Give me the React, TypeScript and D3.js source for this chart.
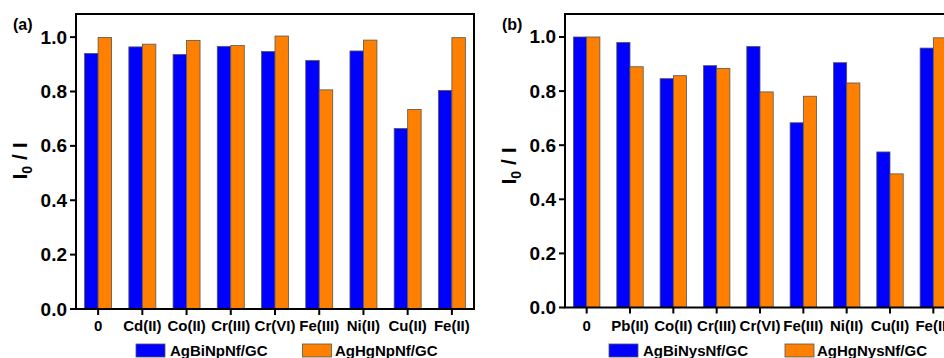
import React from "react";
import * as d3 from "d3";

// ion categories on the x axis
const ionsA = ["0", "Cd(II)", "Co(II)", "Cr(III)", "Cr(VI)", "Fe(III)", "Ni(II)", "Cu(II)", "Fe(II)"];
const ionsB = ["0", "Pb(II)", "Co(II)", "Cr(III)", "Cr(VI)", "Fe(III)", "Ni(II)", "Cu(II)", "Fe(II)"];

// I0 / I values
const biNpA = [0.94, 0.964, 0.936, 0.966, 0.947, 0.914, 0.949, 0.664, 0.804];
const hgNpA = [0.999, 0.974, 0.988, 0.969, 1.004, 0.806, 0.989, 0.734, 0.998];
const biNysB = [1.0, 0.98, 0.846, 0.894, 0.965, 0.683, 0.905, 0.575, 0.959];
const hgNysB = [1.0, 0.89, 0.857, 0.884, 0.797, 0.781, 0.83, 0.494, 0.997];

const seriesA = ["AgBiNpNf/GC", "AgHgNpNf/GC"];
const seriesB = ["AgBiNysNf/GC", "AgHgNysNf/GC"];
const yTicks = [0, 0.2, 0.4, 0.6, 0.8, 1.0];

const colors = ["#0000ff", "#ff8000"];
const font = "'Liberation Sans', Arial, Helvetica, sans-serif";

type PanelProps = {
  tag: string;
  ions: string[];
  values: number[][];
  names: string[];
  left: number;
  right: number;
  top: number;
  bottom: number;
  titleY: number;
  legendX: number[];
  legendTextX: number[];
};

function Panel(props: PanelProps) {
  const { tag, ions, values, names, left, right, top, bottom, titleY, legendX, legendTextX } = props;

  const x = d3.scaleBand<string>().domain(ions).range([left, right]).paddingInner(0.39).paddingOuter(0.195);
  const xs = d3.scaleBand<number>().domain([0, 1]).range([0, x.bandwidth()]);
  const y = d3.scaleLinear().domain([0, 1.085]).range([bottom, top]);

  return (
    <g fontFamily={font} fontWeight="bold">
      {values.map((series, si) =>
        series.map((v, i) => (
          <rect
            key={`${si}-${i}`}
            x={(x(ions[i]) as number) + (xs(si) as number)}
            y={y(v)}
            width={xs.bandwidth()}
            height={bottom - y(v)}
            fill={colors[si]}
            stroke="#555"
            strokeWidth={0.8}
          />
        ))
      )}

      <rect x={left} y={top} width={right - left} height={bottom - top} fill="none" stroke="#000" strokeWidth={2} />

      {yTicks.map((t) => (
        <g key={t}>
          <line x1={left - 6} x2={left} y1={y(t)} y2={y(t)} stroke="#000" strokeWidth={2} />
          <text x={left - 9} y={y(t)} textAnchor="end" dominantBaseline="central" fontSize={19}>
            {d3.format(".1f")(t)}
          </text>
        </g>
      ))}

      {ions.map((ion) => {
        const cx = (x(ion) as number) + x.bandwidth() / 2;
        return (
          <g key={ion}>
            <line x1={cx} x2={cx} y1={bottom} y2={bottom + 6} stroke="#000" strokeWidth={2} />
            <text x={cx} y={331} textAnchor="middle" fontSize={15}>
              {ion}
            </text>
          </g>
        );
      })}

      <text transform={`translate(${left - 49},${titleY}) rotate(-90)`} textAnchor="middle" fontSize={21}>
        I<tspan fontSize={14} dy={5}>0</tspan>
        <tspan dy={-5}> / I</tspan>
      </text>

      <text x={left - 63} y={30} fontSize={16}>
        {tag}
      </text>

      {names.map((n, i) => (
        <g key={n}>
          <rect x={legendX[i]} y={344} width={29} height={13} fill={colors[i]} stroke="#555" strokeWidth={0.8} />
          <text x={legendTextX[i]} y={355.5} fontSize={15}>
            {n}
          </text>
        </g>
      ))}
    </g>
  );
}

export default function App() {
  return (
    <svg width={944} height={358} style={{ position: "absolute", left: 0, top: 0, background: "#fff" }}>
      <rect width={944} height={358} fill="#fff" />
      <Panel
        tag="(a)"
        ions={ionsA}
        values={[biNpA, hgNpA]}
        names={seriesA}
        left={76}
        right={474}
        top={14}
        bottom={309}
        titleY={161}
        legendX={[136, 302.5]}
        legendTextX={[170, 335]}
      />
      <Panel
        tag="(b)"
        ions={ionsB}
        values={[biNysB, hgNysB]}
        names={seriesB}
        left={565}
        right={955}
        top={14}
        bottom={307.5}
        titleY={166}
        legendX={[609, 785]}
        legendTextX={[643, 817]}
      />
    </svg>
  );
}
